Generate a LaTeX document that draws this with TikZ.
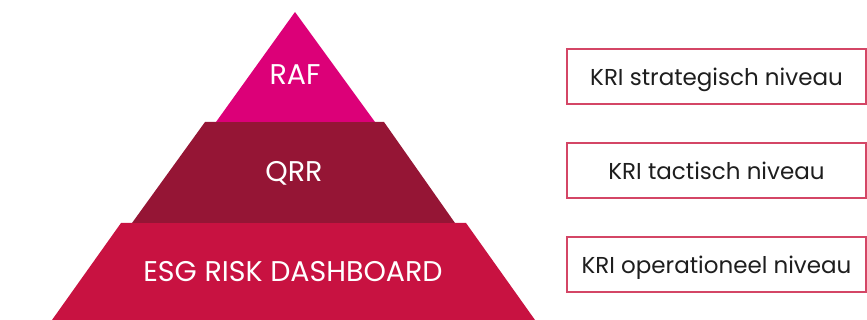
\documentclass[tikz,border=0pt]{standalone}
\usepackage{fontspec}
\setmainfont{Poppins}
\usepackage{tikz}
\usetikzlibrary{positioning,calc}
\definecolor{rafpink}{RGB}{220, 0, 120}
\definecolor{qrrwine}{RGB}{149, 21, 53}
\definecolor{esgred}{RGB}{200, 18, 65}
\definecolor{kriline}{RGB}{212, 70, 102}
\definecolor{kritext}{RGB}{30, 30, 30}
\tikzset{
  lvltext/.style={text=white,font=\fontsize{28.5}{32}\selectfont,anchor=base},
  kribox/.style={draw=kriline,line width=1.1pt,fill=white,
                 minimum width=299pt,minimum height=55pt,
                 text=kritext,font=\fontsize{23}{27}\selectfont,
                 text height=18pt,text depth=0pt},
}
\begin{document}
\begin{tikzpicture}[x=1pt,y=-1pt]
  \useasboundingbox (0,0) rectangle (867,320);
  % pyramid
  \fill[esgred] (121,223) -- (466,223) -- (535,320) -- (52,320) -- cycle;
  \fill[qrrwine] (205,122) -- (384,122) -- (455,223) -- (132,223) -- cycle;
  \fill[rafpink] (295,12) -- (375,122) -- (216,122) -- cycle;
  \node[lvltext] (raf) at (295,85) {RAF};
  \node[lvltext] (qrr) at (294,182) {QRR};
  \node[lvltext] (esg) at (293,281) {ESG RISK DASHBOARD};
  % KRI levels
  \node[kribox] (strat) at (716.5,76.5) {KRI strategisch niveau};
  \node[kribox] (tact) at (716.5,170.5) {KRI tactisch niveau};
  \node[kribox] (oper) at (716.5,264.5) {KRI operationeel niveau};
\end{tikzpicture}
\end{document}
